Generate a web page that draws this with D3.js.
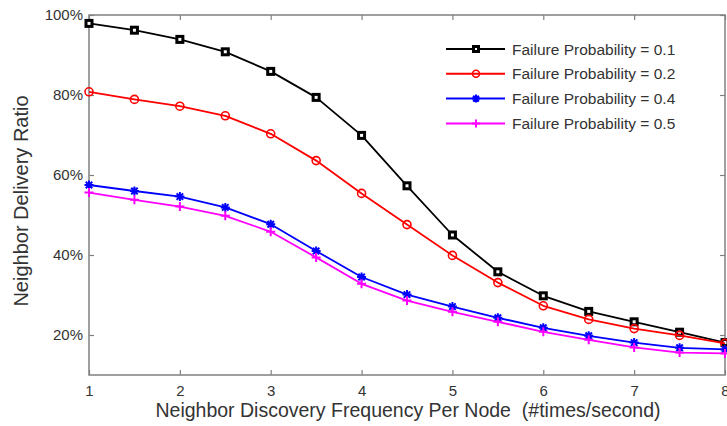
<!DOCTYPE html>
<html>
<head>
<meta charset="utf-8">
<script src="https://cdn.jsdelivr.net/npm/d3@7/dist/d3.min.js"></script>
<style>
  html, body { margin: 0; padding: 0; background: #fff; }
  svg { display: block; font-family: "Liberation Sans", Arial, sans-serif; }
</style>
</head>
<body>
<svg id="chart" width="727" height="426"></svg>
<script>
// Discovery frequency (times per second) on the x axis
const frequency = [1, 1.5, 2, 2.5, 3, 3.5, 4, 4.5, 5, 5.5, 6, 6.5, 7, 7.5, 8];

// Neighbor delivery ratio (%) for each failure probability
const ratioP01 = [97.9, 96.2, 93.9, 90.8, 85.9, 79.4, 69.9, 57.3, 45.0, 35.8, 29.8, 25.9, 23.3, 20.7, 18.1];
const ratioP02 = [80.8, 78.9, 77.2, 74.8, 70.3, 63.6, 55.4, 47.6, 39.9, 33.1, 27.3, 23.9, 21.6, 19.9, 17.9];
const ratioP04 = [57.5, 56.0, 54.6, 51.9, 47.7, 41.0, 34.5, 30.1, 27.1, 24.3, 21.8, 19.8, 18.1, 16.8, 16.4];
const ratioP05 = [55.6, 53.8, 52.1, 49.8, 45.8, 39.4, 32.8, 28.6, 25.8, 23.3, 20.8, 18.8, 16.9, 15.6, 15.4];

const seriesNames = ["Failure Probability = 0.1", "Failure Probability = 0.2",
                     "Failure Probability = 0.4", "Failure Probability = 0.5"];
const seriesColors = ["#000000", "#ff0000", "#0000ff", "#ff00ff"];
const seriesMarkers = ["square", "circle", "asterisk", "plus"];
const seriesValues = [ratioP01, ratioP02, ratioP04, ratioP05];

const xTicks = [1, 2, 3, 4, 5, 6, 7, 8];
const yTicks = [20, 40, 60, 80, 100];

const svg = d3.select("#chart");
const plotLeft = 89, plotRight = 725, plotTop = 15, plotBottom = 375;

const x = d3.scaleLinear().domain([1, 8]).range([plotLeft, plotRight]);
const y = d3.scaleLinear().domain([10, 100]).range([plotBottom, plotTop]);

const axisColor = "#808080";
const textColor = "#333333";

// Plot box
svg.append("rect")
  .attr("x", plotLeft).attr("y", plotTop)
  .attr("width", plotRight - plotLeft).attr("height", plotBottom - plotTop)
  .attr("fill", "none").attr("stroke", axisColor).attr("stroke-width", 1.5);

// Inward tick marks on all four sides
function styleAxis(g) {
  g.select(".domain").remove();
  g.selectAll(".tick line").attr("stroke", axisColor).attr("stroke-width", 1.2);
  g.selectAll(".tick text").attr("fill", textColor).attr("font-size", 15)
    .attr("font-family", "Liberation Sans, Arial, sans-serif");
}
svg.append("g").attr("transform", `translate(0,${plotBottom})`)
  .call(d3.axisBottom(x).tickValues(xTicks).tickFormat(d3.format("d"))
        .tickSizeInner(-5).tickSizeOuter(0).tickPadding(10))
  .call(styleAxis);
svg.append("g").attr("transform", `translate(0,${plotTop})`)
  .call(d3.axisTop(x).tickValues(xTicks).tickFormat("").tickSizeInner(-5).tickSizeOuter(0))
  .call(styleAxis);
svg.append("g").attr("transform", `translate(${plotLeft},0)`)
  .call(d3.axisLeft(y).tickValues(yTicks).tickFormat(d => d + "%")
        .tickSizeInner(-5).tickSizeOuter(0).tickPadding(6))
  .call(styleAxis);
svg.append("g").attr("transform", `translate(${plotRight},0)`)
  .call(d3.axisRight(y).tickValues(yTicks).tickFormat("").tickSizeInner(-5).tickSizeOuter(0))
  .call(styleAxis);

// Axis titles
svg.append("text")
  .attr("x", 408).attr("y", 417)
  .attr("text-anchor", "middle").attr("font-size", 19.5).attr("fill", textColor)
  .style("white-space", "pre")
  .text("Neighbor Discovery Frequency Per Node  (#times/second)");
svg.append("text")
  .attr("transform", "translate(28,201) rotate(-90)")
  .attr("text-anchor", "middle").attr("font-size", 20).attr("fill", textColor)
  .text("Neighbor Delivery Ratio");

// Marker drawing
function drawMarker(g, type, color, size) {
  const s = size;
  if (type === "square") {
    g.append("rect").attr("x", -s / 2).attr("y", -s / 2).attr("width", s).attr("height", s)
      .attr("fill", "#fff").attr("stroke", color).attr("stroke-width", 3);
  } else if (type === "circle") {
    g.append("circle").attr("r", s / 2 + 0.5)
      .attr("fill", "none").attr("stroke", color).attr("stroke-width", 1.6);
  } else if (type === "asterisk") {
    const r = s / 2 + 1;
    const d = r * 0.72;
    const p = [`M${-r},0L${r},0`, `M0,${-r}L0,${r}`,
               `M${-d},${-d}L${d},${d}`, `M${-d},${d}L${d},${-d}`];
    g.append("path").attr("d", p.join("")).attr("stroke", color).attr("stroke-width", 2).attr("fill", "none");
  } else if (type === "plus") {
    const r = s / 2 + 1;
    g.append("path").attr("d", `M${-r},0L${r},0M0,${-r}L0,${r}`)
      .attr("stroke", color).attr("stroke-width", 2).attr("fill", "none");
  }
}

const line = d3.line().x(d => x(d[0])).y(d => y(d[1]));

seriesValues.forEach((vals, i) => {
  const pts = frequency.map((f, j) => [f, vals[j]]);
  const g = svg.append("g");
  g.append("path").datum(pts).attr("d", line)
    .attr("fill", "none").attr("stroke", seriesColors[i]).attr("stroke-width", 1.8)
    .attr("stroke-linejoin", "round");
  pts.forEach(p => {
    const m = g.append("g").attr("transform", `translate(${x(p[0])},${y(p[1])})`);
    drawMarker(m, seriesMarkers[i], seriesColors[i], i === 0 ? 6 : 7);
  });
});

// Legend
const legend = svg.append("g");
seriesNames.forEach((name, i) => {
  const ly = 49 + i * 24.8;
  legend.append("line").attr("x1", 446).attr("x2", 505).attr("y1", ly).attr("y2", ly)
    .attr("stroke", seriesColors[i]).attr("stroke-width", 2);
  const m = legend.append("g").attr("transform", `translate(476,${ly})`);
  drawMarker(m, seriesMarkers[i], seriesColors[i], i === 0 ? 5 : 6);
  legend.append("text").attr("x", 512).attr("y", ly).attr("dy", "0.36em")
    .attr("font-size", 15.5).attr("fill", textColor).text(name);
});
</script>
</body>
</html>
